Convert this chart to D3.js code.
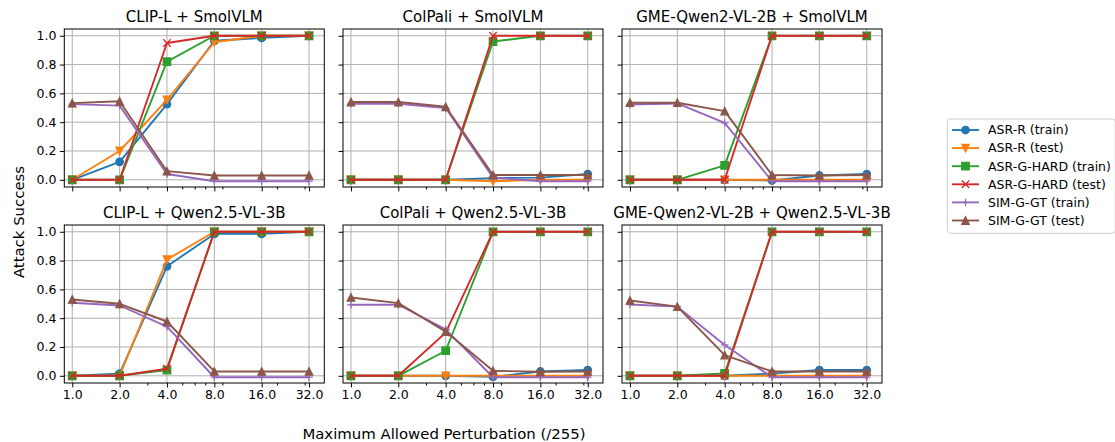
<!DOCTYPE html>
<html>
<head>
<meta charset="utf-8">
<script src="https://cdn.jsdelivr.net/npm/d3@7"></script>
<style>
  body { margin: 0; background: #fff; }
  svg { font-family: "DejaVu Sans", sans-serif; }
</style>
</head>
<body>
<div id="chart"></div>
<script>
// x values and labels
const perturbations = [1, 2, 4, 8, 16, 32];
const xTickLabels = ['1.0', '2.0', '4.0', '8.0', '16.0', '32.0'];
const xMinorTicks = [3, 5, 6, 7, 9, 20, 30];
const yTicks = [0, 0.2, 0.4, 0.6, 0.8, 1.0];

const seriesNames = ['ASR-R (train)', 'ASR-R (test)', 'ASR-G-HARD (train)',
                     'ASR-G-HARD (test)', 'SIM-G-GT (train)', 'SIM-G-GT (test)'];
const seriesColors = ['#1f77b4', '#ff7f0e', '#2ca02c', '#d62728', '#9467bd', '#8c564b'];
const seriesMarkers = ['o', 'v', 's', 'x', '+', '^'];

const panelTitles = ['CLIP-L + SmolVLM', 'ColPali + SmolVLM', 'GME-Qwen2-VL-2B + SmolVLM',
                     'CLIP-L + Qwen2.5-VL-3B', 'ColPali + Qwen2.5-VL-3B', 'GME-Qwen2-VL-2B + Qwen2.5-VL-3B'];

// one row per series, same order as seriesNames
const clipSmol = [
  [0, 0.125, 0.525, 0.965, 0.985, 1.0],
  [0, 0.20, 0.555, 0.955, 1.0, 1.0],
  [0, 0, 0.82, 1.0, 1.0, 1.0],
  [0, 0, 0.95, 1.0, 1.0, 1.0],
  [0.525, 0.515, 0.04, -0.01, -0.01, -0.01],
  [0.532, 0.545, 0.06, 0.03, 0.03, 0.03]
];
const colpaliSmol = [
  [0, 0, 0, 0.012, 0.015, 0.04],
  [0, 0, 0, -0.01, 0, 0],
  [0, 0, 0, 0.96, 1.0, 1.0],
  [0, 0, 0, 1.0, 1.0, 1.0],
  [0.528, 0.528, 0.498, 0.015, -0.01, -0.01],
  [0.54, 0.54, 0.507, 0.033, 0.033, 0.033]
];
const gmeSmol = [
  [0, 0, 0, -0.005, 0.03, 0.04],
  [0, 0, 0, 0, 0, 0],
  [0, 0, 0.10, 1.0, 1.0, 1.0],
  [0, 0, 0, 1.0, 1.0, 1.0],
  [0.523, 0.53, 0.395, -0.01, -0.01, -0.01],
  [0.535, 0.535, 0.477, 0.033, 0.03, 0.033]
];
const clipQwen = [
  [0, 0.015, 0.76, 0.985, 0.985, 1.0],
  [0, 0, 0.807, 1.0, 1.0, 1.0],
  [0, 0, 0.04, 1.0, 1.0, 1.0],
  [0, 0, 0.05, 1.0, 1.0, 1.0],
  [0.507, 0.488, 0.342, -0.01, -0.01, -0.01],
  [0.53, 0.50, 0.377, 0.03, 0.03, 0.03]
];
const colpaliQwen = [
  [0, 0, 0, -0.007, 0.03, 0.04],
  [0, 0, 0, 0, 0, 0],
  [0, 0, 0.174, 1.0, 1.0, 1.0],
  [0, 0, 0.30, 1.0, 1.0, 1.0],
  [0.493, 0.493, 0.322, -0.01, -0.01, -0.01],
  [0.544, 0.505, 0.307, 0.035, 0.028, 0.03]
];
const gmeQwen = [
  [0, 0, 0, 0.015, 0.04, 0.04],
  [0, 0, 0, 0, 0, 0],
  [0, 0, 0.016, 1.0, 1.0, 1.0],
  [0, 0, 0, 1.0, 1.0, 1.0],
  [0.495, 0.48, 0.214, -0.01, -0.01, -0.01],
  [0.523, 0.48, 0.144, 0.03, 0.03, 0.03]
];
const panelData = [clipSmol, colpaliSmol, gmeSmol, clipQwen, colpaliQwen, gmeQwen];

// Layout
const W = 1115, H = 442;
const panelW = 260, panelH = 158;
const colLeft = [64.3, 343, 622];
const rowTop = [29, 225];

const svg = d3.select('#chart').append('svg')
    .attr('width', W)
    .attr('height', H);

const x = d3.scaleLog().base(2).domain([0.89, 40]).range([0, panelW]);
const y = d3.scaleLinear().domain([-0.05, 1.047]).range([panelH, 0]);

const msize = 7.5;   // marker size (px)

function markerPath(type, s) {
  const h = s / 2;
  switch (type) {
    case 'o': return 'M' + h + ',0A' + h + ',' + h + ' 0 1,1 ' + (-h) + ',0A' + h + ',' + h + ' 0 1,1 ' + h + ',0Z';
    case 's': return 'M' + (-h) + ',' + (-h) + 'H' + h + 'V' + h + 'H' + (-h) + 'Z';
    case '^': return 'M0,' + (-h) + 'L' + h + ',' + h + 'L' + (-h) + ',' + h + 'Z';
    case 'v': return 'M0,' + h + 'L' + h + ',' + (-h) + 'L' + (-h) + ',' + (-h) + 'Z';
    case 'x': return 'M' + (-h) + ',' + (-h) + 'L' + h + ',' + h + 'M' + (-h) + ',' + h + 'L' + h + ',' + (-h);
    case '+': return 'M' + (-h) + ',0H' + h + 'M0,' + (-h) + 'V' + h;
  }
}

function drawMarker(g, type, color) {
  const filled = type !== 'x' && type !== '+';
  g.append('path')
      .attr('d', markerPath(type, msize))
      .attr('fill', filled ? color : 'none')
      .attr('stroke', color)
      .attr('stroke-width', 1.25);
}

const line = d3.line()
    .x(d => x(d[0]))
    .y(d => y(d[1]));

panelData.forEach((rows, p) => {
  const r = Math.floor(p / 3), c = p % 3;
  const g = svg.append('g')
      .attr('transform', 'translate(' + colLeft[c] + ',' + rowTop[r] + ')');

  // grid
  g.selectAll('.gx').data(perturbations).enter().append('line')
      .attr('x1', d => x(d)).attr('x2', d => x(d))
      .attr('y1', 0).attr('y2', panelH)
      .attr('stroke', '#b0b0b0').attr('stroke-width', 1);
  g.selectAll('.gy').data(yTicks).enter().append('line')
      .attr('x1', 0).attr('x2', panelW)
      .attr('y1', d => y(d)).attr('y2', d => y(d))
      .attr('stroke', '#b0b0b0').attr('stroke-width', 1);

  // series
  rows.forEach((vals, s) => {
    const pts = perturbations.map((v, i) => [v, vals[i]]);
    const sg = g.append('g');
    sg.append('path')
        .attr('d', line(pts))
        .attr('fill', 'none')
        .attr('stroke', seriesColors[s])
        .attr('stroke-width', 1.875)
        .attr('stroke-linejoin', 'round');
    pts.forEach(pt => {
      const mg = sg.append('g')
          .attr('transform', 'translate(' + x(pt[0]) + ',' + y(pt[1]) + ')');
      drawMarker(mg, seriesMarkers[s], seriesColors[s]);
    });
  });

  // axes
  const xAxis = d3.axisBottom(x)
      .tickValues(perturbations)
      .tickFormat((d, i) => r === 1 ? xTickLabels[i] : '')
      .tickSize(4.4).tickPadding(3);
  const gX = g.append('g')
      .attr('transform', 'translate(0,' + panelH + ')')
      .call(xAxis);
  gX.selectAll('text').attr('font-size', 12.5).attr('fill', '#000')
      .attr('font-family', '"DejaVu Sans", sans-serif');

  const xMinor = d3.axisBottom(x).tickValues(xMinorTicks).tickFormat('').tickSize(2.5);
  g.append('g')
      .attr('transform', 'translate(0,' + panelH + ')')
      .call(xMinor);

  const yAxis = d3.axisLeft(y)
      .tickValues(yTicks)
      .tickFormat(d => c === 0 ? d3.format('.1f')(d) : '')
      .tickSize(4.4).tickPadding(3.5);
  const gY = g.append('g').call(yAxis);
  gY.selectAll('text').attr('font-size', 12.5).attr('fill', '#000')
      .attr('font-family', '"DejaVu Sans", sans-serif');

  g.selectAll('.domain').remove();
  g.selectAll('.tick line').attr('stroke', '#000').attr('stroke-width', 1);

  // frame
  g.append('rect')
      .attr('width', panelW).attr('height', panelH)
      .attr('fill', 'none').attr('stroke', '#000').attr('stroke-width', 1);

  // title
  g.append('text')
      .attr('x', panelW / 2).attr('y', -7.5)
      .attr('text-anchor', 'middle')
      .attr('font-size', 15)
      .text(panelTitles[p]);
});

// axis labels
svg.append('text')
    .attr('x', 444).attr('y', 439)
    .attr('text-anchor', 'middle')
    .attr('font-size', 14.9)
    .text('Maximum Allowed Perturbation (/255)');

svg.append('text')
    .attr('transform', 'translate(24,222) rotate(-90)')
    .attr('text-anchor', 'middle')
    .attr('font-size', 14.9)
    .text('Attack Success');

// legend
const legend = svg.append('g').attr('transform', 'translate(947.3,119)');
legend.append('rect')
    .attr('width', 168).attr('height', 114.3)
    .attr('rx', 3).attr('ry', 3)
    .attr('fill', '#fff').attr('fill-opacity', 0.8)
    .attr('stroke', '#cccccc').attr('stroke-width', 1);

seriesNames.forEach((name, s) => {
  const ly = 11 + s * 18.1;
  const row = legend.append('g').attr('transform', 'translate(0,' + ly + ')');
  row.append('line')
      .attr('x1', 4.7).attr('x2', 31.7)
      .attr('stroke', seriesColors[s]).attr('stroke-width', 1.875);
  const mg = row.append('g').attr('transform', 'translate(18.2,0)');
  drawMarker(mg, seriesMarkers[s], seriesColors[s]);
  row.append('text')
      .attr('x', 40.7).attr('y', 0)
      .attr('dy', '0.35em')
      .attr('font-size', 12.5)
      .text(name);
});
</script>
</body>
</html>
